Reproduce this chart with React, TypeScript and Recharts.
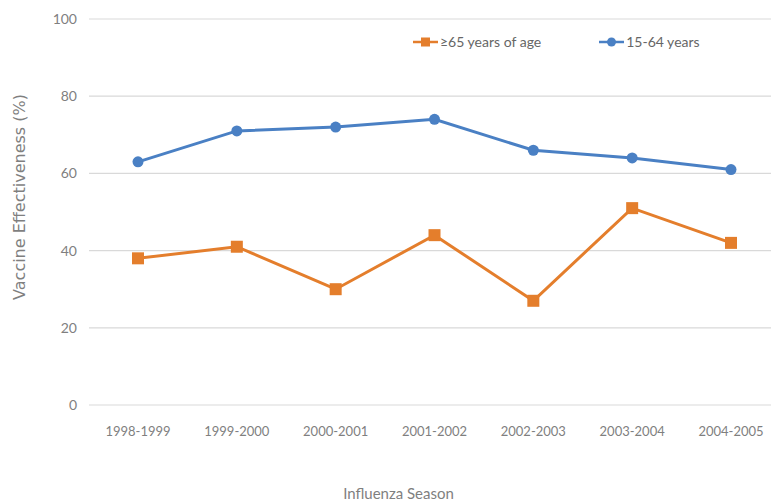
import React from "react";
import { LineChart, Line, XAxis, YAxis, CartesianGrid } from "recharts";

const seasons = ["1998-1999", "1999-2000", "2000-2001", "2001-2002", "2002-2003", "2003-2004", "2004-2005"];
const elderly = [38, 41, 30, 44, 27, 51, 42];
const adults = [63, 71, 72, 74, 66, 64, 61];
const yTicks = [0, 20, 40, 60, 80, 100];
const seriesNames = ["≥65 years of age", "15-64 years"];

const data = seasons.map((s, i) => ({ season: s, elderly: elderly[i], adults: adults[i] }));

const ORANGE = "#E47E2C";
const BLUE = "#4A80C4";
const GRAY = "#7f7f7f";
const FONT = "Lato, 'Open Sans', sans-serif";

const Square = (props: any) => {
  const { cx, cy } = props;
  if (cx == null || cy == null) return null;
  return <rect x={cx - 6} y={cy - 6} width={12} height={12} fill={ORANGE} />;
};

const Dot = (props: any) => {
  const { cx, cy } = props;
  if (cx == null || cy == null) return null;
  return <circle cx={cx} cy={cy} r={5.5} fill={BLUE} />;
};

const LegendBox = () => {
  const items = [
    { label: seriesNames[0], color: ORANGE, shape: "square" },
    { label: seriesNames[1], color: BLUE, shape: "circle" },
  ];
  return (
    <div style={{ position: "absolute", left: 413, top: 33, display: "flex", gap: 58, fontFamily: FONT, fontSize: 14, color: "#666", lineHeight: "18px" }}>
      {items.map((it) => (
        <div key={it.label} style={{ display: "flex", alignItems: "center" }}>
          <svg width={25} height={12} style={{ marginRight: 2 }}>
            <line x1={0} y1={6} x2={25} y2={6} stroke={it.color} strokeWidth={2.5} />
            {it.shape === "square" ? (
              <rect x={8} y={1.5} width={9} height={9} fill={it.color} />
            ) : (
              <circle cx={12.5} cy={6} r={4.5} fill={it.color} />
            )}
          </svg>
          <span>{it.label}</span>
        </div>
      ))}
    </div>
  );
};

const YTitle = (props: any) => {
  const vb = props.viewBox || {};
  const x = vb.x + 20;
  const y = vb.y + vb.height / 2 - 15;
  return (
    <text x={x} y={y} transform={`rotate(-90 ${x} ${y})`} textAnchor="middle" dominantBaseline="middle"
      fill={GRAY} fontFamily="'DejaVu Sans', sans-serif" fontSize={16}>
      Vaccine Effectiveness (%)
    </text>
  );
};

export default function App() {
  return (
    <div style={{ position: "absolute", left: 0, top: 0, width: 771, height: 502, overflow: "hidden", background: "#fff" }}>
      <LineChart width={780} height={502} data={data} margin={{ top: 19, right: 0, bottom: 0, left: 0 }}>
        <CartesianGrid horizontal={true} vertical={false} stroke="#d9d9d9" strokeWidth={1.2} />
        <XAxis
          dataKey="season"
          height={97}
          axisLine={false}
          tickLine={false}
          tickMargin={16}
          padding={{ left: 49, right: 49 }}
          tick={{ fill: GRAY, fontSize: 13, fontFamily: FONT }}
          interval={0}
          label={{ value: "Influenza Season", position: "insideBottom", offset: 3, dx: -36, fill: GRAY, fontSize: 15, fontFamily: FONT }}
        />
        <YAxis
          width={89}
          domain={[0, 100]}
          ticks={yTicks}
          axisLine={false}
          tickLine={false}
          tickMargin={6}
          tick={{ fill: GRAY, fontSize: 14, fontFamily: FONT }}
          label={<YTitle />}
        />
        <Line type="linear" dataKey="elderly" name={seriesNames[0]} stroke={ORANGE} strokeWidth={3}
          dot={<Square />} isAnimationActive={false} />
        <Line type="linear" dataKey="adults" name={seriesNames[1]} stroke={BLUE} strokeWidth={3}
          dot={<Dot />} isAnimationActive={false} />
      </LineChart>
      <LegendBox />
    </div>
  );
}
